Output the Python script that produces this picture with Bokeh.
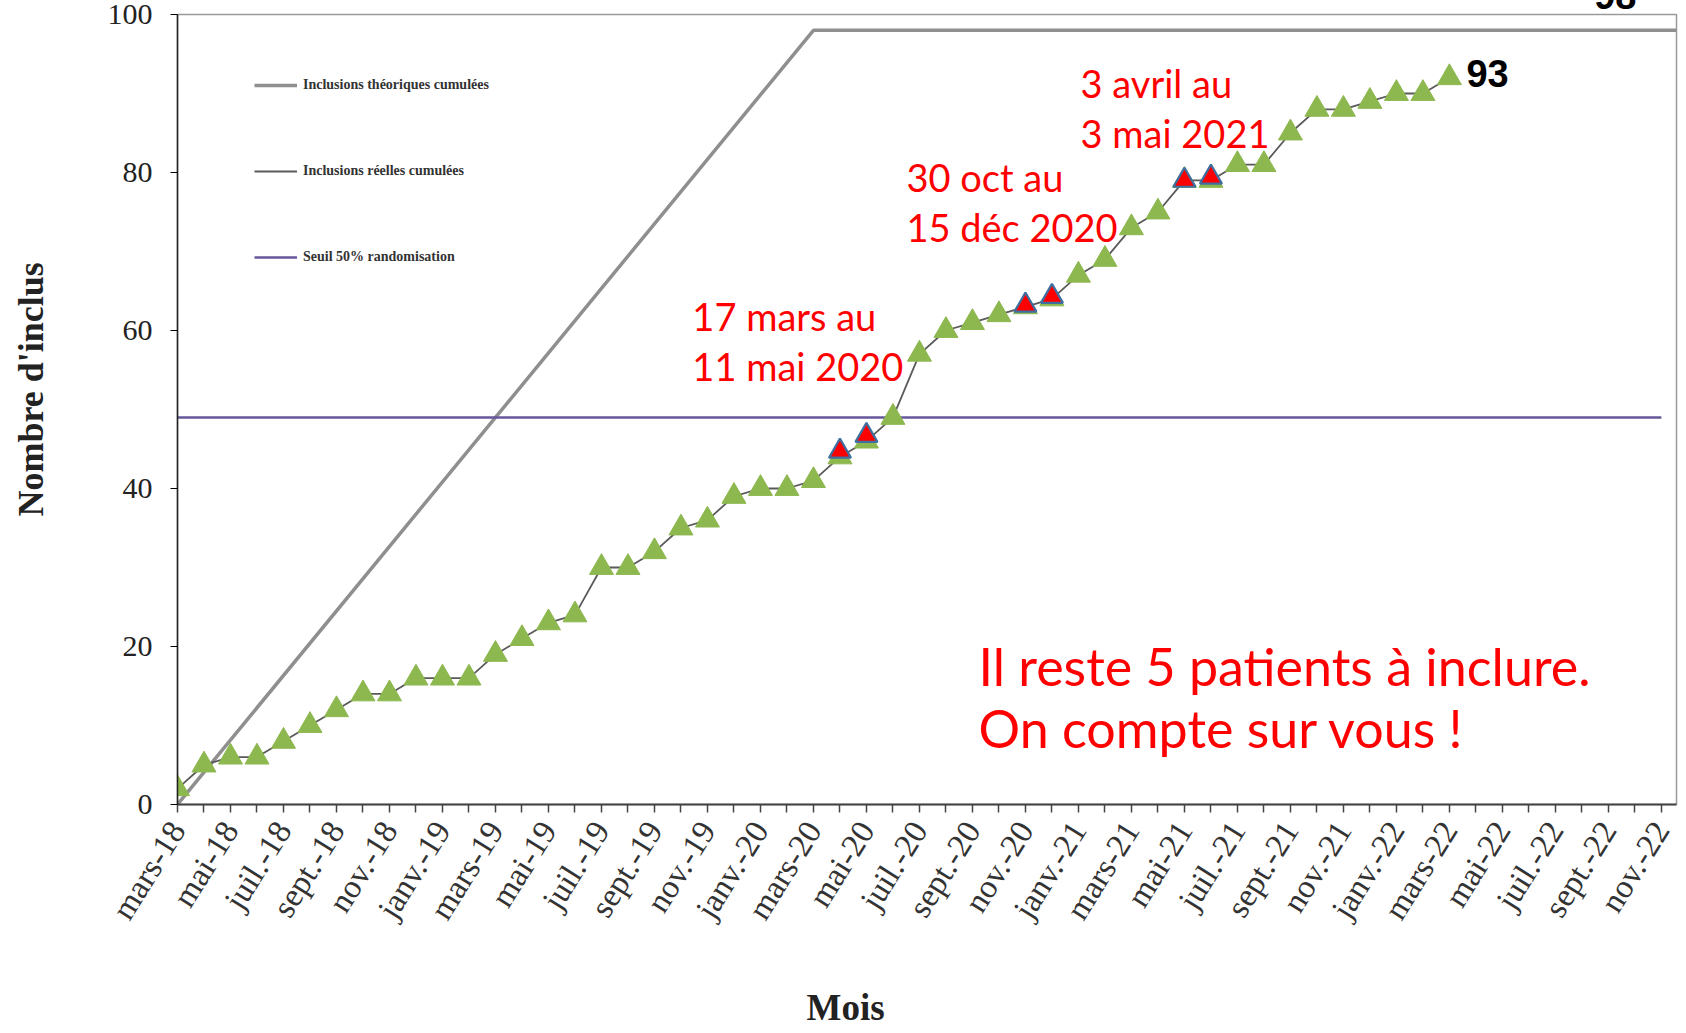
import math
from bokeh.plotting import figure
from bokeh.models import (FixedTicker, Range1d, Label, Legend, LegendItem,
                          ColumnDataSource, Title)
from bokeh.embed import file_html
from bokeh.resources import INLINE

# ---------------- data ----------------
months = [
    "mars-18", "avr.-18", "mai-18", "juin-18", "juil.-18", "août-18", "sept.-18", "oct.-18", "nov.-18", "déc.-18",
    "janv.-19", "févr.-19", "mars-19", "avr.-19", "mai-19", "juin-19", "juil.-19", "août-19", "sept.-19", "oct.-19", "nov.-19", "déc.-19",
    "janv.-20", "févr.-20", "mars-20", "avr.-20", "mai-20", "juin-20", "juil.-20", "août-20", "sept.-20", "oct.-20", "nov.-20", "déc.-20",
    "janv.-21", "févr.-21", "mars-21", "avr.-21", "mai-21", "juin-21", "juil.-21", "août-21", "sept.-21", "oct.-21", "nov.-21", "déc.-21",
    "janv.-22", "févr.-22", "mars-22", "avr.-22", "mai-22", "juin-22", "juil.-22", "août-22", "sept.-22", "oct.-22", "nov.-22", "déc.-22",
]
tick_months = [
    "mars-18", "mai-18", "juil.-18", "sept.-18", "nov.-18", "janv.-19", "mars-19", "mai-19", "juil.-19", "sept.-19",
    "nov.-19", "janv.-20", "mars-20", "mai-20", "juil.-20", "sept.-20", "nov.-20", "janv.-21", "mars-21", "mai-21",
    "juil.-21", "sept.-21", "nov.-21", "janv.-22", "mars-22", "mai-22", "juil.-22", "sept.-22", "nov.-22",
]

# Inclusions réelles cumulées (mars-18 .. mars-22)
real_months = months[0:49]
real_values = [2, 5, 6, 6, 8, 10, 12, 14, 14, 16,
               16, 16, 19, 21, 23, 24, 30, 30, 32, 35, 36, 39,
               40, 40, 41, 44, 46, 49, 57, 60, 61, 62, 63, 64,
               67, 69, 73, 75, 79, 79, 81, 81, 85, 88, 88, 89,
               90, 90, 92]

# confinement periods (highlighted points)
lock_months = ["avr.-20", "mai-20", "nov.-20", "déc.-20", "mai-21", "juin-21"]
lock_values = [44.7, 46.7, 63.2, 64.3, 79.0, 79.4]

# Inclusions théoriques cumulées
theo_months = ["mars-18", "mars-20", "déc.-22"]
theo_values = [0, 98, 98]

# Seuil 50% randomisation
seuil_months = ["mars-18", "nov.-22"]
seuil_values = [49, 49]

last_label = "93"
target_label = "98"
x_title = "Mois"
y_title = "Nombre d'inclus"

# ---------------- helpers ----------------
idx = {m: i for i, m in enumerate(months)}

SERIF = "Liberation Serif"
SANS = "Liberation Sans"
ANN = "Lato"

p = figure(width=1684, height=1031, output_backend="svg", toolbar_location=None,
           x_range=Range1d(0, 56.57), y_range=Range1d(0, 100),
           min_border_left=177, min_border_right=8, min_border_top=14, min_border_bottom=227)
p.background_fill_color = "white"
p.border_fill_color = "white"
p.outline_line_color = "#9a9a9a"
p.outline_line_width = 1.5
p.xgrid.visible = False
p.ygrid.visible = False

theo_src = ColumnDataSource(dict(x=[idx[m] for m in theo_months], y=theo_values))
seuil_src = ColumnDataSource(dict(x=[idx[m] for m in seuil_months], y=seuil_values))
real_src = ColumnDataSource(dict(x=[idx[m] for m in real_months], y=real_values))
lock_src = ColumnDataSource(dict(x=[idx[m] for m in lock_months], y=lock_values))

theo_r = p.line("x", "y", source=theo_src, line_color="#8f8f8f", line_width=3.5)
seuil_r = p.line("x", "y", source=seuil_src, line_color="#65579a", line_width=2.5)
real_line = p.line("x", "y", source=real_src, line_color="#5a5a5a", line_width=1.8)
p.scatter("x", "y", source=real_src, marker="triangle", size=24,
          fill_color="#8db84f", line_color="#8db84f", line_width=1)
p.scatter("x", "y", source=lock_src, marker="triangle", size=22,
          fill_color="#ff0000", line_color="#3f6fa0", line_width=2.2)

# legend
legend = Legend(items=[
    LegendItem(label="Inclusions théoriques cumulées", renderers=[theo_r]),
    LegendItem(label="Inclusions réelles cumulées", renderers=[real_line]),
    LegendItem(label="Seuil 50% randomisation", renderers=[seuil_r]),
], location=(77, 537))
legend.padding = 0
legend.margin = 0
legend.spacing = 66
legend.glyph_width = 43
legend.glyph_height = 20
legend.label_standoff = 6
legend.border_line_alpha = 0
legend.background_fill_alpha = 0
legend.label_text_font = SERIF
legend.label_text_font_size = "14px"
legend.label_text_font_style = "bold"
legend.label_text_color = "#333333"
p.add_layout(legend, "center")

# x axis
xa = p.xaxis[0]
xa.ticker = FixedTicker(ticks=[idx[m] for m in tick_months],
                        minor_ticks=[i for i in range(len(months) - 1) if months[i] not in tick_months])
xa.major_label_overrides = {idx[m]: m for m in tick_months}
xa.major_label_orientation = math.radians(58)
xa.major_label_text_font = SERIF
xa.major_label_text_font_size = "33px"
xa.major_label_text_color = "#333333"
xa.major_label_standoff = 12
xa.major_tick_out = 8
xa.major_tick_in = 0
xa.minor_tick_out = 8
xa.minor_tick_in = 0
xa.axis_line_width = 2.2
xa.axis_line_color = "#444444"
xa.major_tick_line_color = "#444444"
xa.minor_tick_line_color = "#444444"
xa.major_tick_line_width = 1.5
xa.minor_tick_line_width = 1.5

# y axis
ya = p.yaxis[0]
ya.ticker = FixedTicker(ticks=[0, 20, 40, 60, 80, 100])
ya.major_label_text_font = SERIF
ya.major_label_text_font_size = "30px"
ya.major_label_text_color = "#222222"
ya.major_label_standoff = 18
ya.major_tick_out = 7
ya.major_tick_in = 0
ya.minor_tick_out = 0
ya.minor_tick_in = 0
ya.axis_line_color = "#222222"
ya.axis_line_width = 1.5

# axis titles in side panels (blank spacer titles push them outwards)
p.add_layout(Title(text=" ", text_font_size="40px", standoff=0), "below")
p.add_layout(Title(text=x_title, align="left", offset=629, standoff=0,
                   text_font=SERIF, text_font_size="37px", text_font_style="bold",
                   text_color="#222222"), "below")
p.add_layout(Title(text=" ", text_font_size="46px", standoff=0), "left")
p.add_layout(Title(text=y_title, align="left", offset=288, standoff=0,
                   text_font=SERIF, text_font_size="36px", text_font_style="bold",
                   text_color="#222222"), "left")

# target value above the frame (cut by the top edge as in the original)
p.add_layout(Title(text=target_label + "\n ", align="right", offset=40, standoff=-58,
                   vertical_align="top", text_line_height=0.6,
                   text_font=SANS, text_font_size="38px", text_font_style="bold",
                   text_color="black"), "above")

# last value label
p.add_layout(Label(x=idx[real_months[-1]], y=real_values[-1], x_offset=17, y_offset=4,
                   text=last_label, text_align="left", text_baseline="middle",
                   text_font=SANS, text_font_size="38px", text_font_style="bold", text_color="black"))

# red annotations
def red(x, y, txt, size, dy=15):
    p.add_layout(Label(x=x, y=y, y_offset=dy, text=txt, text_align="left", text_baseline="alphabetic",
                       text_font=ANN, text_font_size=size, text_color="#ff0000"))

red(19.43, 60.0, "17 mars au", "38px")
red(19.43, 53.67, "11 mai 2020", "38px")
red(27.51, 77.47, "30 oct au", "38px")
red(27.51, 71.14, "15 déc 2020", "38px")
red(34.08, 89.37, "3 avril au", "38px")
red(34.08, 83.04, "3 mai 2021", "38px")
red(30.23, 15.06, "Il reste 5 patients à inclure.", "52px", 20)
red(30.23, 7.09, "On compte sur vous !", "52px", 20)

open("out.html", "w").write(file_html(p, INLINE))
